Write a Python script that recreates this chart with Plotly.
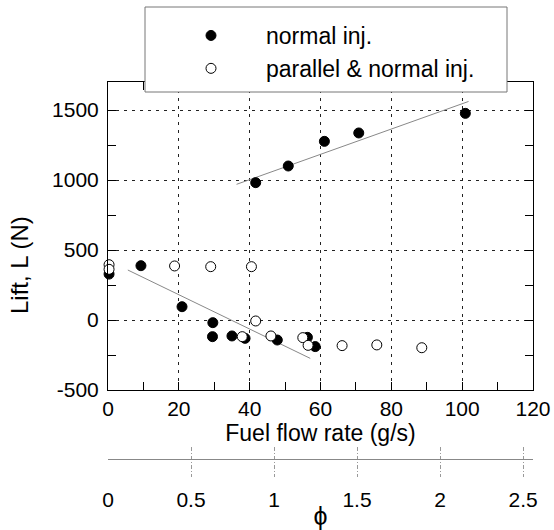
import plotly.graph_objects as go

# ---- data ----
normal_x = [0.3, 9.3, 20.9, 29.6, 29.5, 35.0, 38.7, 47.8, 56.3, 58.5, 41.7, 50.9, 61.1, 70.8, 100.9]
normal_y = [328, 388, 95, -19, -119, -114, -131, -143, -124, -190, 981, 1100, 1276, 1336, 1476]

par_x = [0.3, 0.3, 18.8, 29.0, 40.5, 41.7, 37.9, 46.0, 55.0, 56.5, 66.1, 75.9, 88.6]
par_y = [395, 362, 386, 381, 381, -7, -119, -114, -126, -181, -183, -178, -198]

fit_hi_x = [36.3, 101.8]
fit_hi_y = [969, 1561]
fit_lo_x = [5.6, 57.1]
fit_lo_y = [357, -274]

x_ticks = [0, 20, 40, 60, 80, 100, 120]
y_ticks = [-500, 0, 500, 1000, 1500]
y_labels = ["-500", "0", "500", "1000", "1500"]
phi_ticks = [0, 0.5, 1, 1.5, 2, 2.5]
phi_labels = ["0", "0.5", "1", "1.5", "2", "2.5"]

W, H = 554, 530
ML, MR = 108, 21
PW = W - ML - MR
FONT = "Liberation Sans, Arial, Helvetica, sans-serif"

def py(p):
    return 1 - p / H

def px(p):
    return (p - ML) / PW

fig = go.Figure()

fig.add_trace(go.Scatter(x=fit_hi_x, y=fit_hi_y, mode="lines",
                         line=dict(color="#888888", width=1), showlegend=False,
                         hoverinfo="skip"))
fig.add_trace(go.Scatter(x=fit_lo_x, y=fit_lo_y, mode="lines",
                         line=dict(color="#888888", width=1), showlegend=False,
                         hoverinfo="skip"))
fig.add_trace(go.Scatter(x=normal_x, y=normal_y, mode="markers", name="normal inj.",
                         marker=dict(color="black", size=10, line=dict(color="black", width=1)),
                         cliponaxis=False))
fig.add_trace(go.Scatter(x=par_x, y=par_y, mode="markers", name="parallel & normal inj.",
                         marker=dict(color="white", size=10, line=dict(color="black", width=1)),
                         cliponaxis=False))
# phi axis carrier (invisible)
fig.add_trace(go.Scatter(x=[phi_ticks[0], phi_ticks[-1]], y=[0, 0], mode="markers",
                         marker=dict(opacity=0), xaxis="x2", yaxis="y2",
                         showlegend=False, hoverinfo="skip"))

grid = dict(gridcolor="#222222", griddash="3px,5px", gridwidth=1)

fig.update_layout(
    width=W, height=H,
    margin=dict(l=ML, r=MR, t=0, b=0, autoexpand=False),
    paper_bgcolor="white", plot_bgcolor="white",
    font=dict(family=FONT, size=21, color="black"),
    xaxis=dict(domain=[0, 1], range=[0, 120], tickvals=x_ticks,
               showline=True, linecolor="black", linewidth=1, mirror="ticks",
               ticks="inside", ticklen=8, tickcolor="black",
               minor=dict(dtick=10, ticks="inside", ticklen=8, tickcolor="black", showgrid=False),
               showgrid=True, zeroline=False, anchor="y", automargin=False,
               ticklabelstandoff=0,
               title=dict(text="Fuel flow rate (g/s)", standoff=0,
                          font=dict(family=FONT, size=23, color="black")),
               **grid),
    yaxis=dict(domain=[py(390), py(82)], range=[-500, 1700], tickvals=y_ticks,
               ticktext=y_labels,
               showline=True, linecolor="black", linewidth=1, mirror="ticks",
               ticks="inside", ticklen=8, tickcolor="black",
               minor=dict(dtick=250, ticks="inside", ticklen=8, tickcolor="black", showgrid=False),
               showgrid=True, zeroline=False, anchor="x", automargin=False,
               ticklabelstandoff=4, **grid),
    xaxis2=dict(domain=[0, 1], range=[0, 2.56], tickvals=phi_ticks, ticktext=phi_labels,
                anchor="y2", showline=False, ticks="", showgrid=True,
                gridcolor="#999999", griddash="4px,2px,1px,2px", gridwidth=1,
                zeroline=False, ticklabelstandoff=8, automargin=False,
                title=dict(text="ϕ", standoff=3)),
    yaxis2=dict(domain=[py(477), py(447)], range=[-0.6, 0.4], showticklabels=False,
                showgrid=False, zeroline=True, zerolinecolor="#888888", zerolinewidth=1,
                anchor="x2", ticks="", automargin=False),
    legend=dict(x=px(156), y=py(14), xanchor="left", yanchor="top",
                bgcolor="rgba(0,0,0,0)", borderwidth=0, itemwidth=100,
                font=dict(family=FONT, size=23, color="black")),
    shapes=[dict(type="rect", xref="paper", yref="paper",
                 x0=px(145), x1=px(507), y0=py(92), y1=py(7),
                 fillcolor="white", line=dict(color="#777777", width=1), layer="above")],
    annotations=[
        dict(text="Lift, L (N)", textangle=-90, xref="paper", yref="paper",
             x=px(19), y=py(265), xanchor="center", yanchor="middle",
             showarrow=False, font=dict(family=FONT, size=24, color="black")),
    ],
)

fig.write_html("out.html")
